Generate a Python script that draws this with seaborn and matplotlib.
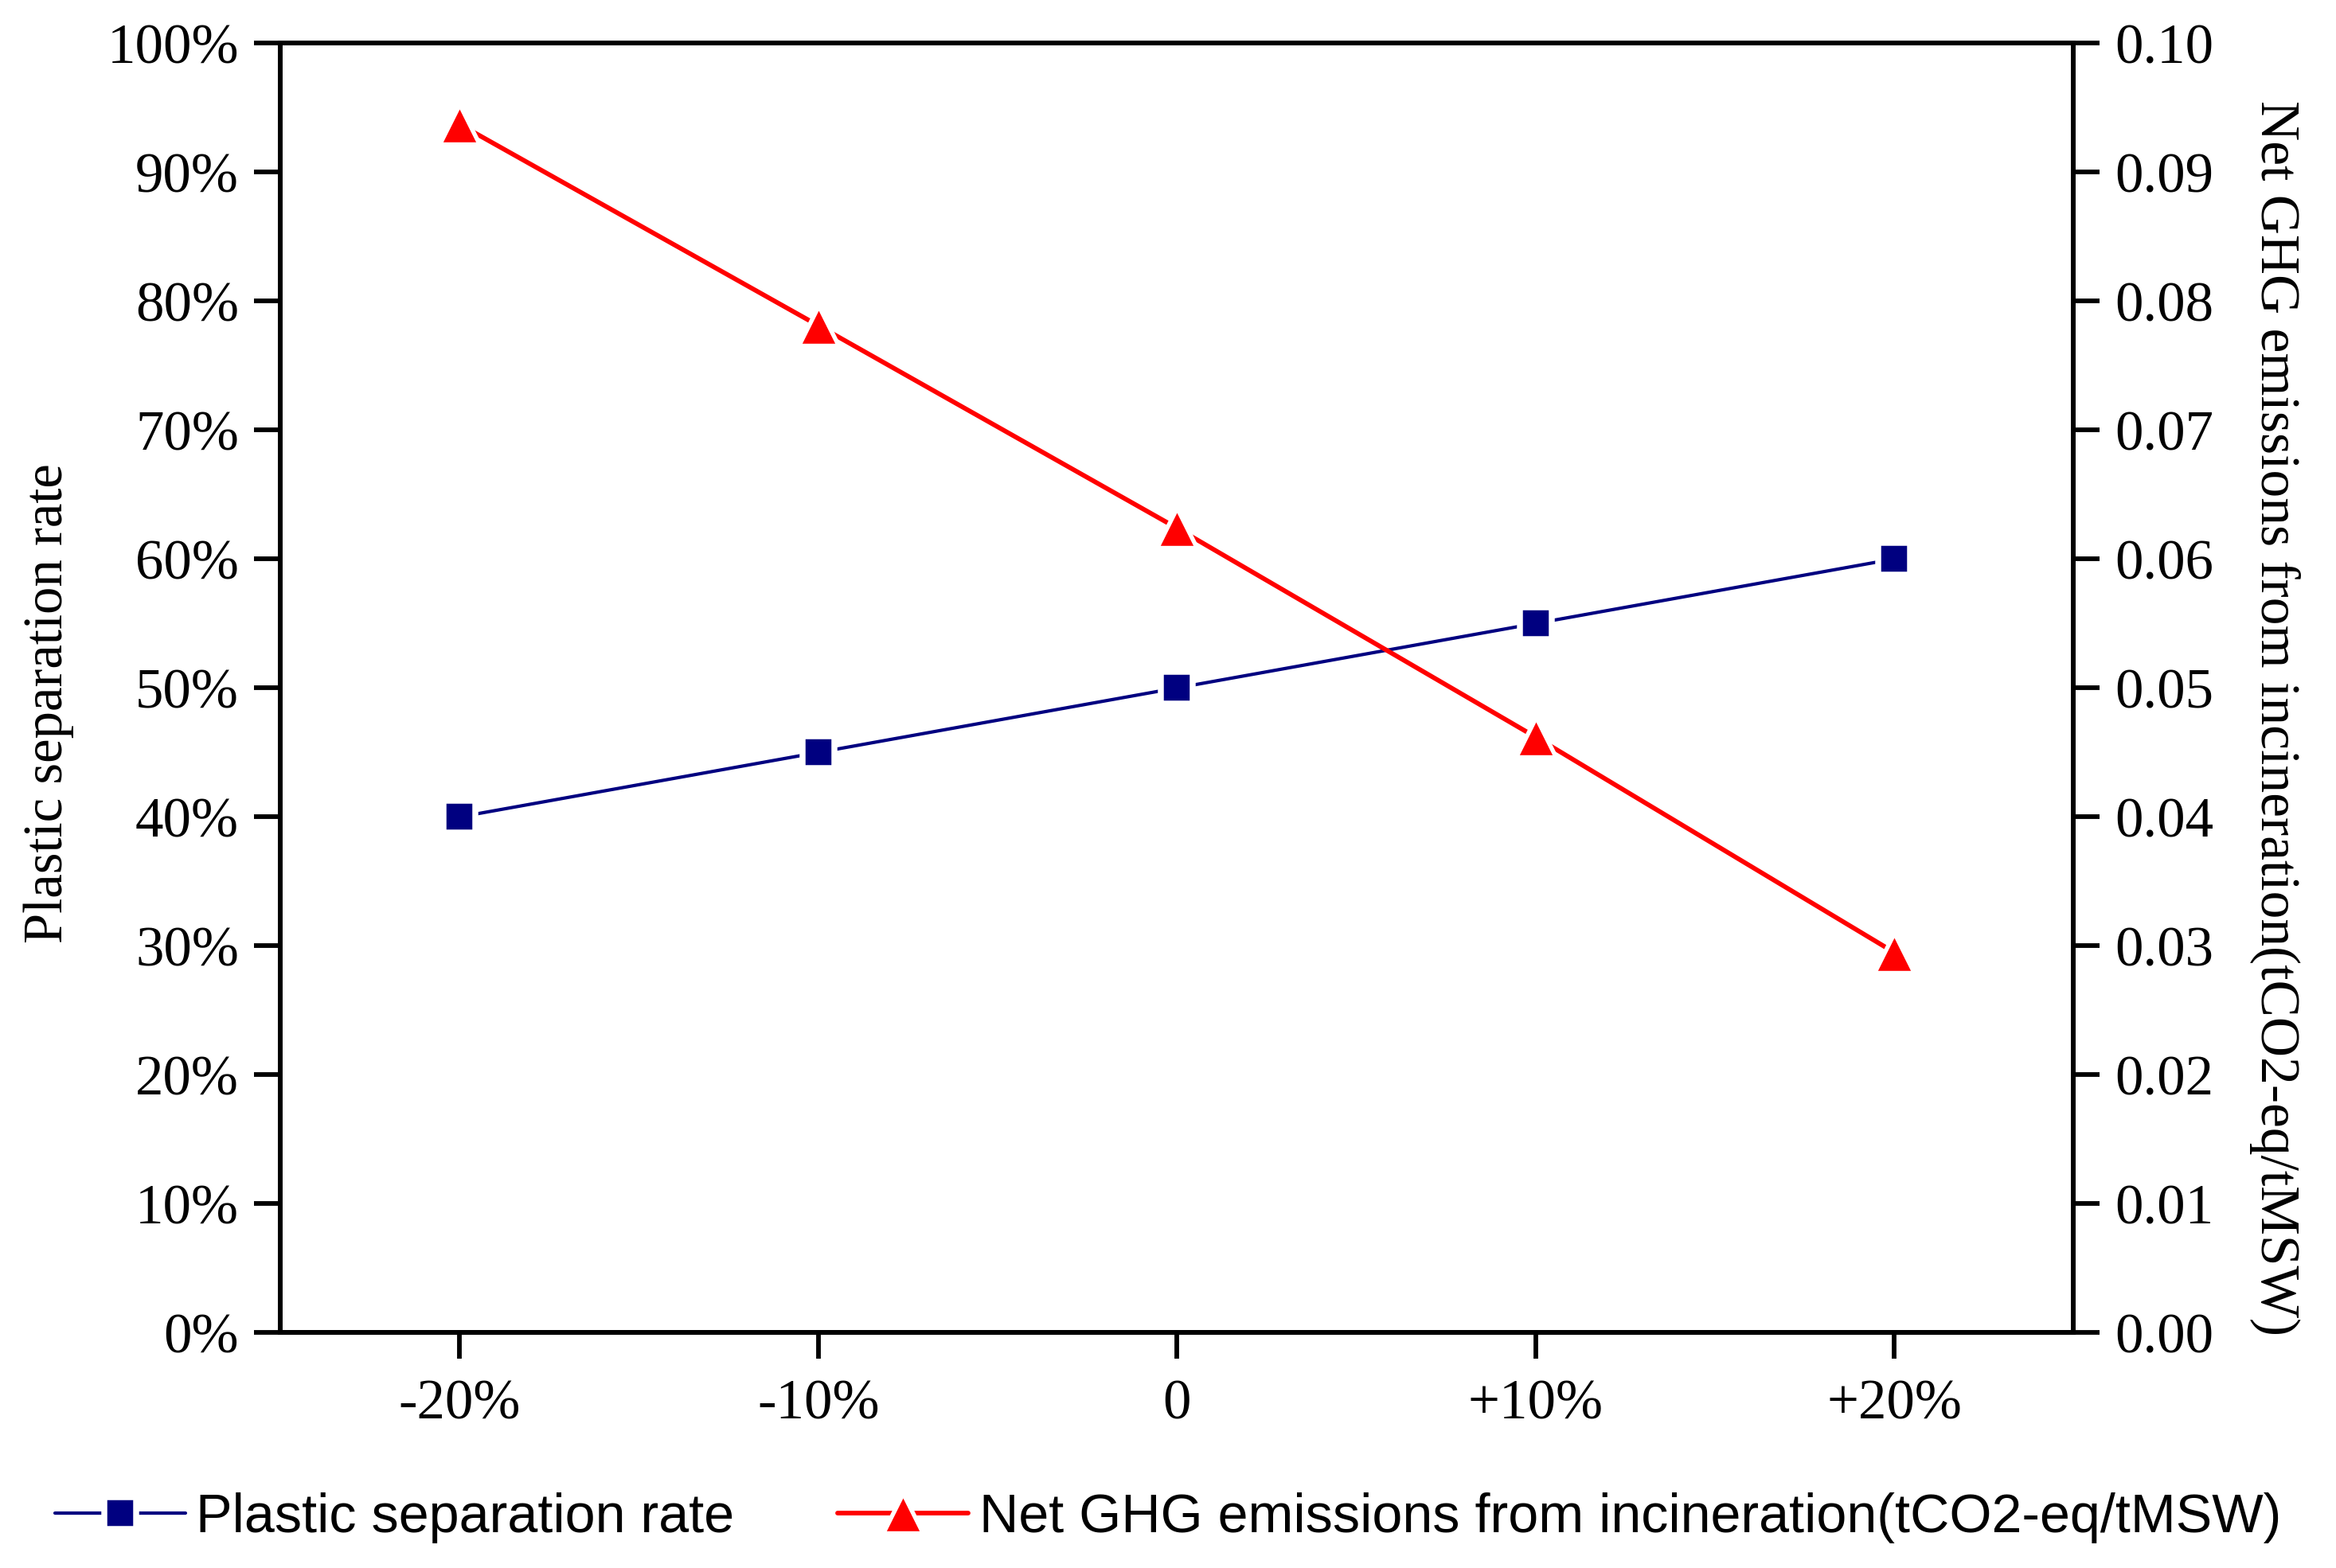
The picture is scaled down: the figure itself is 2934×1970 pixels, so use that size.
import numpy as np
import pandas as pd
import matplotlib
matplotlib.use('Agg')
import matplotlib.pyplot as plt
from matplotlib.markers import MarkerStyle
import seaborn as sns

# data
scenarios = ['-20%', '-10%', '0', '+10%', '+20%']
separation_rate = [0.40, 0.45, 0.50, 0.55, 0.60]
net_ghg = [0.0937, 0.0781, 0.0624, 0.0462, 0.0295]

left_ticks = [i / 10 for i in range(11)]
left_ticklabels = [f'{i * 10}%' for i in range(11)]
right_ticks = [i / 100 for i in range(11)]
right_ticklabels = [f'{t:.2f}' for t in right_ticks]

label_rate = 'Plastic separation rate'
label_ghg = 'Net GHG emissions from incineration(tCO2-eq/tMSW)'

df = pd.DataFrame({'pos': np.arange(len(scenarios)),
                   'scenario': scenarios,
                   'rate': separation_rate,
                   'ghg': net_ghg})

sns.set_style('ticks')
plt.rcParams['font.family'] = ['Liberation Serif', 'DejaVu Serif']
plt.rcParams['axes.linewidth'] = 1.4
for k in ('text.color', 'axes.labelcolor', 'xtick.color', 'ytick.color', 'axes.edgecolor'):
    plt.rcParams[k] = 'black'

fig = plt.figure(figsize=(9.78, 6.5667), dpi=300)
ax = fig.add_axes([0.12, 0.150, 0.7676, 0.8225])
ax2 = ax.twinx()

# white marker edges give the small gap between line and marker seen in the original
sns.lineplot(data=df, x='pos', y='rate', ax=ax, color='#000080', lw=1.0,
             marker=MarkerStyle('s', joinstyle='miter'), markersize=9.5,
             markeredgewidth=1.8, markeredgecolor='white', label=label_rate)
sns.lineplot(data=df, x='pos', y='ghg', ax=ax2, color='#FF0000', lw=1.4,
             marker=MarkerStyle('^', joinstyle='round'), markersize=12.2,
             markeredgewidth=1.3, markeredgecolor='white', label=label_ghg)

ax.set_xlim(-0.5, len(scenarios) - 0.5)
ax.set_xticks(df['pos'])
ax.set_xticklabels(scenarios)
ax.set_ylim(0, 1)
ax.set_yticks(left_ticks)
ax.set_yticklabels(left_ticklabels)
ax2.set_ylim(0, 0.1)
ax2.set_yticks(right_ticks)
ax2.set_yticklabels(right_ticklabels)

for a in (ax, ax2):
    a.tick_params(direction='out', length=8, width=1.4, labelsize=17, pad=4.5,
                  colors='black')
    for s in a.spines.values():
        s.set_visible(True)
        s.set_linewidth(1.4)
        s.set_color('black')
ax.tick_params(axis='x', pad=6)

ax.set_xlabel('')
ax.set_ylabel(label_rate, fontsize=16.5, labelpad=10)
ax2.set_ylabel(label_ghg, fontsize=16.7, rotation=270, labelpad=26)
ax.yaxis.label.set_y(0.488)
ax2.yaxis.label.set_y(0.477)

h1, l1 = ax.get_legend_handles_labels()
h2, l2 = ax2.get_legend_handles_labels()
for a in (ax, ax2):
    if a.get_legend() is not None:
        a.get_legend().remove()
fig.legend(h1 + h2, l1 + l2, loc='center', bbox_to_anchor=(0.5, 0.032), ncol=2,
           frameon=False, handlelength=2.4, handletextpad=0.2, columnspacing=1.9,
           prop={'family': 'Liberation Sans', 'size': 16.4})

fig.savefig('out.png', dpi=300)
